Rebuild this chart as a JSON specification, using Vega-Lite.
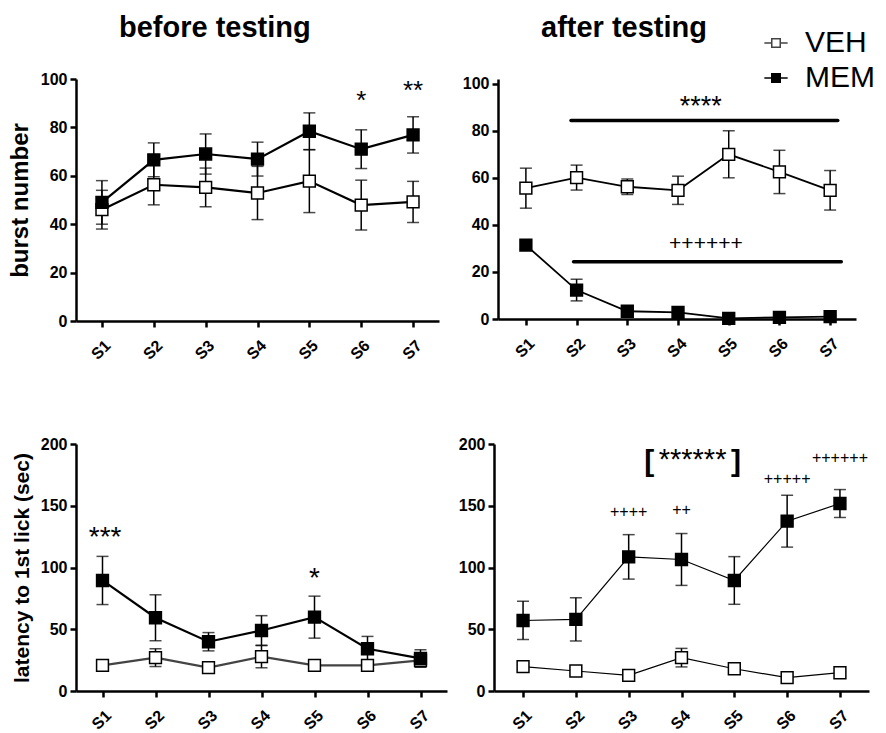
{
"$schema":"https://vega.github.io/schema/vega-lite/v6.json",
"background":"white",
"padding":{"left":8,"top":13,"right":5,"bottom":5},
"datasets":{
"means":[
{"panel":"A","group":"VEH","s":1,"m":46,"lo":38,"hi":54},
{"panel":"A","group":"VEH","s":2,"m":56.3,"lo":48,"hi":64.6},
{"panel":"A","group":"VEH","s":3,"m":55.2,"lo":47.2,"hi":63.2},
{"panel":"A","group":"VEH","s":4,"m":52.9,"lo":41.9,"hi":63.9},
{"panel":"A","group":"VEH","s":5,"m":57.8,"lo":44.8,"hi":70.8},
{"panel":"A","group":"VEH","s":6,"m":47.9,"lo":37.6,"hi":58.2},
{"panel":"A","group":"VEH","s":7,"m":49.2,"lo":40.7,"hi":57.7},
{"panel":"A","group":"MEM","s":1,"m":49,"lo":40,"hi":58},
{"panel":"A","group":"MEM","s":2,"m":66.6,"lo":59.6,"hi":73.6},
{"panel":"A","group":"MEM","s":3,"m":69,"lo":60.7,"hi":77.3},
{"panel":"A","group":"MEM","s":4,"m":66.9,"lo":59.9,"hi":73.9},
{"panel":"A","group":"MEM","s":5,"m":78.4,"lo":70.8,"hi":86},
{"panel":"A","group":"MEM","s":6,"m":71,"lo":63,"hi":79},
{"panel":"A","group":"MEM","s":7,"m":76.9,"lo":69.4,"hi":84.4},
{"panel":"B","group":"VEH","s":1,"m":55.6,"lo":47.1,"hi":64.1},
{"panel":"B","group":"VEH","s":2,"m":60.1,"lo":54.8,"hi":65.4},
{"panel":"B","group":"VEH","s":3,"m":56.2,"lo":52.9,"hi":59.5},
{"panel":"B","group":"VEH","s":4,"m":54.7,"lo":48.7,"hi":60.7},
{"panel":"B","group":"VEH","s":5,"m":70,"lo":60,"hi":80},
{"panel":"B","group":"VEH","s":6,"m":62.5,"lo":53.3,"hi":71.7},
{"panel":"B","group":"VEH","s":7,"m":54.7,"lo":46.3,"hi":63.1},
{"panel":"B","group":"MEM","s":1,"m":31.4,"lo":29.4,"hi":33.4},
{"panel":"B","group":"MEM","s":2,"m":12.3,"lo":7.7,"hi":16.9},
{"panel":"B","group":"MEM","s":3,"m":3.3,"lo":2.3,"hi":4.3},
{"panel":"B","group":"MEM","s":4,"m":2.8,"lo":1.8,"hi":3.8},
{"panel":"B","group":"MEM","s":5,"m":0.3,"lo":0,"hi":0.8},
{"panel":"B","group":"MEM","s":6,"m":0.7,"lo":0.2,"hi":1.2},
{"panel":"B","group":"MEM","s":7,"m":1.0,"lo":0.5,"hi":1.5},
{"panel":"C","group":"VEH","s":1,"m":20.8,"lo":18.8,"hi":22.8},
{"panel":"C","group":"VEH","s":2,"m":27,"lo":19.8,"hi":34.2},
{"panel":"C","group":"VEH","s":3,"m":18.9,"lo":14.4,"hi":23.4},
{"panel":"C","group":"VEH","s":4,"m":27.8,"lo":18.8,"hi":36.8},
{"panel":"C","group":"VEH","s":5,"m":20.8,"lo":18.8,"hi":22.8},
{"panel":"C","group":"VEH","s":6,"m":20.8,"lo":18.8,"hi":22.8},
{"panel":"C","group":"VEH","s":7,"m":24.8,"lo":19.3,"hi":30.3},
{"panel":"C","group":"MEM","s":1,"m":89.5,"lo":70,"hi":109},
{"panel":"C","group":"MEM","s":2,"m":59.3,"lo":40.7,"hi":77.9},
{"panel":"C","group":"MEM","s":3,"m":39.9,"lo":32.5,"hi":47.3},
{"panel":"C","group":"MEM","s":4,"m":49,"lo":37,"hi":61},
{"panel":"C","group":"MEM","s":5,"m":59.8,"lo":42.8,"hi":76.8},
{"panel":"C","group":"MEM","s":6,"m":34.2,"lo":24.2,"hi":44.2},
{"panel":"C","group":"MEM","s":7,"m":26.4,"lo":19.4,"hi":33.4},
{"panel":"D","group":"VEH","s":1,"m":19.7,"lo":17.7,"hi":21.7},
{"panel":"D","group":"VEH","s":2,"m":16.2,"lo":14.2,"hi":18.2},
{"panel":"D","group":"VEH","s":3,"m":12.7,"lo":11.2,"hi":14.2},
{"panel":"D","group":"VEH","s":4,"m":27,"lo":19.5,"hi":34.5},
{"panel":"D","group":"VEH","s":5,"m":18,"lo":16,"hi":20},
{"panel":"D","group":"VEH","s":6,"m":10.8,"lo":9.3,"hi":12.3},
{"panel":"D","group":"VEH","s":7,"m":14.8,"lo":12.8,"hi":16.8},
{"panel":"D","group":"MEM","s":1,"m":57.1,"lo":41.6,"hi":72.6},
{"panel":"D","group":"MEM","s":2,"m":58,"lo":40.5,"hi":75.5},
{"panel":"D","group":"MEM","s":3,"m":108.6,"lo":90.6,"hi":126.6},
{"panel":"D","group":"MEM","s":4,"m":106.5,"lo":85.5,"hi":127.5},
{"panel":"D","group":"MEM","s":5,"m":89.5,"lo":70.2,"hi":108.8},
{"panel":"D","group":"MEM","s":6,"m":137.5,"lo":116.5,"hi":158.5},
{"panel":"D","group":"MEM","s":7,"m":151.8,"lo":140.5,"hi":163.1}
],
"notes":[
{"panel":"A","s":6,"y":87.8,"label":"*"},
{"panel":"A","s":7,"y":91.8,"label":"**"},
{"panel":"B","s":4.45,"y":86.6,"label":"****"},
{"panel":"B","s":4.55,"y":29.5,"label":"++++++"},
{"panel":"C","s":1.05,"y":117.7,"label":"***"},
{"panel":"C","s":5,"y":84.6,"label":"*"},
{"panel":"D","s":3,"y":141.2,"label":"++++"},
{"panel":"D","s":4,"y":142.7,"label":"++"},
{"panel":"D","s":6,"y":167.4,"label":"+++++"},
{"panel":"D","s":7,"y":184.4,"label":"++++++"},
{"panel":"D","s":4.21,"y":179.4,"label":"******"},
{"panel":"D","s":3.39,"y":178.3,"label":"["},
{"panel":"D","s":5.03,"y":178.3,"label":"]"}
],
"lines":[
{"panel":"B","s":1.89,"s2":7.15,"y":84.4},
{"panel":"B","s":1.94,"s2":7.22,"y":24.3}
]
},
"spacing":73,
"vconcat":[
{"hconcat":[
{
"width":363,"height":242,
"title":{"text":"before testing","anchor":"start","frame":"group","dx":43,"offset":28},
"layer":[
{"data":{"name":"means"},"transform":[{"filter":"datum.panel==='A'"}],
 "mark":{"type":"line","color":"black","strokeWidth":2.2},
 "encoding":{
  "x":{"field":"s","type":"quantitative","scale":{"domain":[0.5,7.5],"nice":false,"zero":false},"axis":{"values":[1,2,3,4,5,6,7],"labelExpr":"'S' + datum.value","labelAngle":-45,"labelPadding":10,"title":null}},
  "y":{"field":"m","type":"quantitative","scale":{"domain":[0,100],"nice":false},"axis":{"values":[0,20,40,60,80,100],"title":"burst number","titleFontSize":24}},
  "detail":{"field":"group"}}},
{"data":{"name":"means"},"transform":[{"filter":"datum.panel==='A'"}],
 "mark":{"type":"errorbar","color":"black","ticks":{"size":12,"thickness":1.5},"rule":{"strokeWidth":1.5}},
 "encoding":{
  "x":{"field":"s","type":"quantitative","scale":{"domain":[0.5,7.5],"nice":false,"zero":false}},
  "y":{"field":"lo","type":"quantitative","scale":{"domain":[0,100],"nice":false},"title":"burst number"},
  "y2":{"field":"hi"}}},
{"data":{"name":"means"},"transform":[{"filter":"datum.panel==='A'"}],
 "mark":{"type":"point","shape":"square","size":140,"filled":true,"stroke":"black","strokeWidth":1.5,"opacity":1},
 "encoding":{
  "x":{"field":"s","type":"quantitative","scale":{"domain":[0.5,7.5],"nice":false,"zero":false}},
  "y":{"field":"m","type":"quantitative","scale":{"domain":[0,100],"nice":false},"title":"burst number"},
  "fill":{"field":"group","type":"nominal","scale":{"domain":["VEH","MEM"],"range":["white","black"]},"legend":{"orient":"none","legendX":685,"legendY":-51,"title":null}}}},
{"data":{"name":"notes"},"transform":[{"filter":"datum.panel==='A'"}],
 "mark":{"type":"text","fontSize":26,"font":"Liberation Sans","color":"black","baseline":"alphabetic"},
 "encoding":{
  "x":{"field":"s","type":"quantitative","scale":{"domain":[0.5,7.5],"nice":false,"zero":false}},
  "y":{"field":"y","type":"quantitative","scale":{"domain":[0,100],"nice":false},"title":"burst number"},
  "text":{"field":"label"}}}
]},
{
"width":358,"height":240,
"title":{"text":"after testing","anchor":"start","frame":"group","dx":43,"offset":33},
"layer":[
{"data":{"name":"lines"},"transform":[{"filter":"datum.panel==='B'"}],
 "mark":{"type":"rule","color":"black","strokeWidth":3.5,"strokeCap":"round"},
 "encoding":{
  "x":{"field":"s","type":"quantitative","scale":{"domain":[0.45,7.51],"nice":false,"zero":false},"axis":{"values":[1,2,3,4,5,6,7],"labelExpr":"'S' + datum.value","labelAngle":-45,"labelPadding":10,"title":null}},
  "x2":{"field":"s2"},
  "y":{"field":"y","type":"quantitative","scale":{"domain":[0,102],"nice":false},"axis":{"values":[0,20,40,60,80,100],"title":null}}}},
{"data":{"name":"means"},"transform":[{"filter":"datum.panel==='B'"}],
 "mark":{"type":"line","color":"black","strokeWidth":1.8},
 "encoding":{
  "x":{"field":"s","type":"quantitative","scale":{"domain":[0.45,7.51],"nice":false,"zero":false}},
  "y":{"field":"m","type":"quantitative","scale":{"domain":[0,102],"nice":false},"title":null},
  "detail":{"field":"group"}}},
{"data":{"name":"means"},"transform":[{"filter":"datum.panel==='B'"}],
 "mark":{"type":"errorbar","color":"black","ticks":{"size":12,"thickness":1.5},"rule":{"strokeWidth":1.5}},
 "encoding":{
  "x":{"field":"s","type":"quantitative","scale":{"domain":[0.45,7.51],"nice":false,"zero":false}},
  "y":{"field":"lo","type":"quantitative","scale":{"domain":[0,102],"nice":false},"title":null},
  "y2":{"field":"hi"}}},
{"data":{"name":"means"},"transform":[{"filter":"datum.panel==='B'"}],
 "mark":{"type":"point","shape":"square","size":140,"filled":true,"stroke":"black","strokeWidth":1.5,"opacity":1},
 "encoding":{
  "x":{"field":"s","type":"quantitative","scale":{"domain":[0.45,7.51],"nice":false,"zero":false}},
  "y":{"field":"m","type":"quantitative","scale":{"domain":[0,102],"nice":false},"title":null},
  "fill":{"field":"group","type":"nominal","scale":{"domain":["VEH","MEM"],"range":["white","black"]},"legend":{"orient":"none","legendX":685,"legendY":-51,"title":null}}}},
{"data":{"name":"notes"},"transform":[{"filter":"datum.panel==='B' && datum.label==='****'"}],
 "mark":{"type":"text","fontSize":27,"font":"Liberation Sans","color":"black","baseline":"alphabetic"},
 "encoding":{
  "x":{"field":"s","type":"quantitative","scale":{"domain":[0.45,7.51],"nice":false,"zero":false}},
  "y":{"field":"y","type":"quantitative","scale":{"domain":[0,102],"nice":false},"title":null},
  "text":{"field":"label"}}},
{"data":{"name":"notes"},"transform":[{"filter":"datum.panel==='B' && datum.label==='++++++'"}],
 "mark":{"type":"text","fontSize":21,"font":"Liberation Sans","color":"black","baseline":"alphabetic"},
 "encoding":{
  "x":{"field":"s","type":"quantitative","scale":{"domain":[0.45,7.51],"nice":false,"zero":false}},
  "y":{"field":"y","type":"quantitative","scale":{"domain":[0,102],"nice":false},"title":null},
  "text":{"field":"label"}}}
]}
],"spacing":23},
{"hconcat":[
{
"width":371,"height":247,
"layer":[
{"data":{"name":"means"},"transform":[{"filter":"datum.panel==='C'"}],
 "mark":{"type":"line","strokeWidth":2.2},
 "encoding":{
  "x":{"field":"s","type":"quantitative","scale":{"domain":[0.5,7.5],"nice":false,"zero":false},"axis":{"values":[1,2,3,4,5,6,7],"labelExpr":"'S' + datum.value","labelAngle":-45,"labelPadding":10,"title":null}},
  "y":{"field":"m","type":"quantitative","scale":{"domain":[0,200],"nice":false},"axis":{"values":[0,50,100,150,200],"title":"latency to 1st lick (sec)"}},
  "stroke":{"field":"group","type":"nominal","scale":{"domain":["VEH","MEM"],"range":["#444444","black"]},"legend":null},
  "detail":{"field":"group"}}},
{"data":{"name":"means"},"transform":[{"filter":"datum.panel==='C'"}],
 "mark":{"type":"errorbar","color":"black","ticks":{"size":12,"thickness":1.5},"rule":{"strokeWidth":1.5}},
 "encoding":{
  "x":{"field":"s","type":"quantitative","scale":{"domain":[0.5,7.5],"nice":false,"zero":false}},
  "y":{"field":"lo","type":"quantitative","scale":{"domain":[0,200],"nice":false},"title":"latency to 1st lick (sec)"},
  "y2":{"field":"hi"}}},
{"data":{"name":"means"},"transform":[{"filter":"datum.panel==='C'"}],
 "mark":{"type":"point","shape":"square","size":140,"filled":true,"stroke":"black","strokeWidth":1.5,"opacity":1},
 "encoding":{
  "x":{"field":"s","type":"quantitative","scale":{"domain":[0.5,7.5],"nice":false,"zero":false}},
  "y":{"field":"m","type":"quantitative","scale":{"domain":[0,200],"nice":false},"title":"latency to 1st lick (sec)"},
  "fill":{"field":"group","type":"nominal","scale":{"domain":["VEH","MEM"],"range":["white","black"]},"legend":{"orient":"none","legendX":685,"legendY":-51,"title":null}}}},
{"data":{"name":"notes"},"transform":[{"filter":"datum.panel==='C'"}],
 "mark":{"type":"text","fontSize":28,"font":"Liberation Sans","color":"black","baseline":"alphabetic"},
 "encoding":{
  "x":{"field":"s","type":"quantitative","scale":{"domain":[0.5,7.5],"nice":false,"zero":false}},
  "y":{"field":"y","type":"quantitative","scale":{"domain":[0,200],"nice":false},"title":"latency to 1st lick (sec)"},
  "text":{"field":"label"}}}
]},
{
"width":375,"height":247,
"layer":[
{"data":{"name":"means"},"transform":[{"filter":"datum.panel==='D'"}],
 "mark":{"type":"line","color":"black","strokeWidth":1.2},
 "encoding":{
  "x":{"field":"s","type":"quantitative","scale":{"domain":[0.45,7.55],"nice":false,"zero":false},"axis":{"values":[1,2,3,4,5,6,7],"labelExpr":"'S' + datum.value","labelAngle":-45,"labelPadding":10,"title":null}},
  "y":{"field":"m","type":"quantitative","scale":{"domain":[0,200],"nice":false},"axis":{"values":[0,50,100,150,200],"title":null}},
  "detail":{"field":"group"}}},
{"data":{"name":"means"},"transform":[{"filter":"datum.panel==='D'"}],
 "mark":{"type":"errorbar","color":"black","ticks":{"size":12,"thickness":1.5},"rule":{"strokeWidth":1.5}},
 "encoding":{
  "x":{"field":"s","type":"quantitative","scale":{"domain":[0.45,7.55],"nice":false,"zero":false}},
  "y":{"field":"lo","type":"quantitative","scale":{"domain":[0,200],"nice":false},"title":null},
  "y2":{"field":"hi"}}},
{"data":{"name":"means"},"transform":[{"filter":"datum.panel==='D'"}],
 "mark":{"type":"point","shape":"square","size":140,"filled":true,"stroke":"black","strokeWidth":1.5,"opacity":1},
 "encoding":{
  "x":{"field":"s","type":"quantitative","scale":{"domain":[0.45,7.55],"nice":false,"zero":false}},
  "y":{"field":"m","type":"quantitative","scale":{"domain":[0,200],"nice":false},"title":null},
  "fill":{"field":"group","type":"nominal","scale":{"domain":["VEH","MEM"],"range":["white","black"]},"legend":{"orient":"none","legendX":685,"legendY":-51,"title":null}}}},
{"data":{"name":"notes"},"transform":[{"filter":"datum.panel==='D' && indexof(datum.label,'+')>=0"}],
 "mark":{"type":"text","fontSize":16,"font":"Liberation Sans","color":"black","baseline":"alphabetic"},
 "encoding":{
  "x":{"field":"s","type":"quantitative","scale":{"domain":[0.45,7.55],"nice":false,"zero":false}},
  "y":{"field":"y","type":"quantitative","scale":{"domain":[0,200],"nice":false},"title":null},
  "text":{"field":"label"}}},
{"data":{"name":"notes"},"transform":[{"filter":"datum.panel==='D' && datum.label==='******'"}],
 "mark":{"type":"text","fontSize":29,"font":"Liberation Sans","color":"black","baseline":"alphabetic"},
 "encoding":{
  "x":{"field":"s","type":"quantitative","scale":{"domain":[0.45,7.55],"nice":false,"zero":false}},
  "y":{"field":"y","type":"quantitative","scale":{"domain":[0,200],"nice":false},"title":null},
  "text":{"field":"label"}}},
{"data":{"name":"notes"},"transform":[{"filter":"datum.panel==='D' && (datum.label==='[' || datum.label===']')"}],
 "mark":{"type":"text","fontSize":30,"fontWeight":"bold","font":"Liberation Sans","color":"black","baseline":"alphabetic"},
 "encoding":{
  "x":{"field":"s","type":"quantitative","scale":{"domain":[0.45,7.55],"nice":false,"zero":false}},
  "y":{"field":"y","type":"quantitative","scale":{"domain":[0,200],"nice":false},"title":null},
  "text":{"field":"label"}}}
]}
],"spacing":11}
],
"config":{
 "view":{"stroke":null},
 "axis":{"grid":false,"domainColor":"black","domainWidth":2.5,"tickColor":"black","tickWidth":2.5,"tickSize":6,"labelFont":"Liberation Sans","labelFontWeight":"bold","labelFontSize":16,"labelColor":"black","labelPadding":3,"titleFont":"Liberation Sans","titleFontWeight":"bold","titleFontSize":21,"titleColor":"black"},
 "axisY":{"titlePadding":8},
 "title":{"font":"Liberation Sans","fontWeight":"bold","fontSize":29,"color":"black"},
 "legend":{"symbolType":"M-1.65,0H-0.6M0.6,0H1.65M-0.6,-0.6H0.6V0.6H-0.6Z","symbolSize":200,"symbolStrokeColor":"black","symbolStrokeWidth":1.5,"labelFont":"Liberation Sans","labelFontSize":30,"labelColor":"black","labelOffset":14,"rowPadding":5}
}
}
